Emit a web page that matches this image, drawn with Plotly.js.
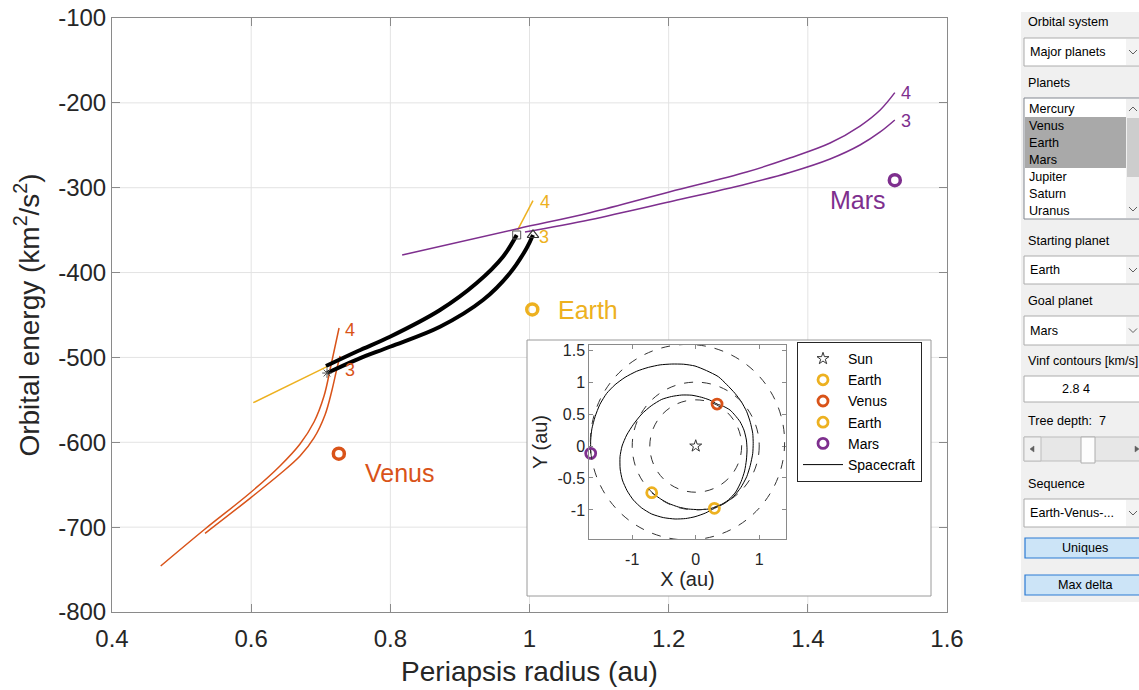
<!DOCTYPE html>
<html><head><meta charset="utf-8">
<script src="https://cdn.plot.ly/plotly-3.0.1.min.js"></script>
<style>html,body{margin:0;padding:0;background:#fff;}#chart{width:1139px;height:690px;}</style>
</head><body><div id="chart"></div>
<script>
// ---------- main chart data (periapsis radius [au], orbital energy [km^2/s^2]) ----------
const venus4X = [0.470, 0.5337, 0.5983, 0.6414, 0.6702, 0.6903, 0.7047, 0.7148, 0.7263];
const venus4Y = [-745.8, -702.2, -659.8, -627.9, -602.0, -576.1, -545.5, -508.9, -465.3];
const venus3X = [0.5337, 0.5983, 0.6414, 0.6702, 0.6903, 0.7061, 0.7162, 0.7234, 0.7278];
const venus3Y = [-707.3, -666.0, -637.4, -616.2, -594.9, -567.8, -538.4, -512.5, -498.3];
const earth4aX = [0.603, 0.709];
const earth4aY = [-553.3, -510.9];
const earth4bX = [0.983, 1.005];
const earth4bY = [-349.8, -315.3];
const mars4X = [0.817, 0.983, 1.087, 1.202, 1.312, 1.374, 1.432, 1.475, 1.504, 1.525];
const mars4Y = [-379.3, -348.3, -329.4, -304.7, -281.5, -265.0, -247.3, -227.3, -208.4, -188.0];
const mars3X = [0.9935, 1.087, 1.202, 1.312, 1.374, 1.432, 1.475, 1.504, 1.525];
const mars3Y = [-352.2, -337.7, -316.5, -295.6, -282.1, -266.2, -249.7, -234.3, -220.2];
const trajUpperX = [0.7075, 0.7535, 0.7995, 0.8714, 0.9241, 0.9619, 0.9816];
const trajUpperY = [-510.1, -492.4, -475.6, -444.1, -412.3, -381.3, -355.7];
const trajLowerX = [0.709, 0.7535, 0.7995, 0.8714, 0.9332, 0.972, 0.996, 1.005];
const trajLowerY = [-518.4, -501.9, -487.4, -463.8, -432.3, -400.5, -371.0, -355.7];
const planetNames = ['Venus', 'Earth', 'Mars'];
const planetRp = [0.726, 1.004, 1.525];
const planetEnergy = [-613.4, -443.5, -291.1];
const contourLevels = ['4', '3'];
const xTickVals = [0.4, 0.6, 0.8, 1.0, 1.2, 1.4, 1.6];
const xTickText = ['0.4', '0.6', '0.8', '1', '1.2', '1.4', '1.6'];
const yTickVals = [-800, -700, -600, -500, -400, -300, -200, -100];
const yTickText = ['-800', '-700', '-600', '-500', '-400', '-300', '-200', '-100'];

// ---------- inset data (heliocentric X, Y [au]) ----------
const scX = [-0.693,-0.55,-0.430,-0.27,-0.115,0.05,0.199,0.37,0.514,0.63,0.714,0.77,0.798,0.808,0.798,0.76,0.698,0.62,0.541,0.44,0.336,
  0.22,0.094,-0.06,-0.220,-0.38,-0.535,-0.70,-0.850,-0.98,-1.087,-1.16,-1.192,-1.19,-1.155,-1.08,-0.982,-0.85,-0.693,-0.51,-0.325,-0.16,-0.011,0.15,0.294,
  0.45,0.593,0.71,0.803,0.86,0.898,0.905,0.898,0.86,0.803,0.72,0.619,0.49,0.357,0.17,-0.011,-0.19,-0.378,-0.56,-0.745,-0.93,-1.113,-1.27,-1.402,-1.51,-1.585,-1.635,-1.654,-1.654];
const scY = [-0.730,-0.83,-0.897,-0.955,-0.986,-0.995,-0.986,-0.935,-0.845,-0.72,-0.558,-0.39,-0.219,-0.06,0.094,0.25,0.381,0.48,0.563,0.62,0.657,
  0.72,0.762,0.795,0.798,0.775,0.730,0.63,0.501,0.34,0.172,0.0,-0.167,-0.36,-0.532,-0.70,-0.845,-0.97,-1.064,-1.12,-1.142,-1.135,-1.106,-1.05,-0.975,
  -0.90,-0.793,-0.65,-0.480,-0.30,-0.115,0.04,0.198,0.37,0.537,0.69,0.824,0.96,1.085,1.18,1.252,1.28,1.283,1.27,1.231,1.17,1.075,0.96,0.824,0.65,0.459,0.27,0.094,-0.115];
const flybyNames = ['Earth', 'Venus', 'Earth', 'Mars'];
const flybyX = [-0.693, 0.336, 0.294, -1.654];
const flybyY = [-0.730, 0.657, -0.975, -0.115];
const orbitNames = ['Venus', 'Earth', 'Mars'];
const orbitCx = [0, 0, -0.13];
const orbitCy = [0, 0, 0.06];
const orbitR = [0.723, 1.0, 1.53];
const insetXTicks = [-1, 0, 1];
const insetXTickText = ['-1', '0', '1'];
const insetYTicks = [-1, -0.5, 0, 0.5, 1, 1.5];
const insetYTickText = ['-1', '-0.5', '0', '0.5', '1', '1.5'];

// ---------- UI panel texts ----------
const planetList = ['Mercury', 'Venus', 'Earth', 'Mars', 'Jupiter', 'Saturn', 'Uranus'];

const COL = {Venus: '#D95319', Earth: '#EDB120', Mars: '#7E2F8E'};
const AX = '#8a8a8a', TXT = '#262626', GRID = '#e3e3e3';

const pxX = p => (p - 112) / 835;
const pxY = p => (612 - p) / 594;

const traces = [];
function line(x, y, color, w) {
  return {x, y, type: 'scatter', mode: 'lines', xaxis: 'x', yaxis: 'y', showlegend: false,
    line: {color, width: w, shape: 'spline', smoothing: 1}, hoverinfo: 'skip'};
}
traces.push(line(venus4X, venus4Y, COL.Venus, 1.5));
traces.push(line(venus3X, venus3Y, COL.Venus, 1.5));
traces.push(line(earth4aX.concat([null], earth4bX), earth4aY.concat([null], earth4bY), COL.Earth, 1.5));
traces.push(line(mars4X, mars4Y, COL.Mars, 1.5));
traces.push(line(mars3X, mars3Y, COL.Mars, 1.5));
traces.push(line(trajUpperX, trajUpperY, '#000', 4));
traces.push(line(trajLowerX, trajLowerY, '#000', 4));
traces.push({x: [trajUpperX[trajUpperX.length-1]], y: [trajUpperY[trajUpperY.length-1]], type: 'scatter', mode: 'markers',
  xaxis: 'x', yaxis: 'y', showlegend: false, marker: {symbol: 'square-open', size: 8, color: '#555', line: {width: 1}}});
traces.push({x: [trajLowerX[trajLowerX.length-1]], y: [trajLowerY[trajLowerY.length-1]], type: 'scatter', mode: 'markers',
  xaxis: 'x', yaxis: 'y', showlegend: false, marker: {symbol: 'triangle-up-open', size: 10, color: '#333', line: {width: 1.2}}});
traces.push({x: [trajLowerX[0]], y: [trajLowerY[0]], type: 'scatter', mode: 'markers',
  xaxis: 'x', yaxis: 'y', showlegend: false, marker: {symbol: 'asterisk-open', size: 8, color: '#555', line: {width: 1}}});
traces.push({x: planetRp, y: planetEnergy, type: 'scatter', mode: 'markers', xaxis: 'x', yaxis: 'y', showlegend: false,
  marker: {symbol: 'circle-open', size: 11, color: planetNames.map(n => COL[n]), line: {width: 3.5}}});

// inset traces
traces.push({x: scX, y: scY, type: 'scatter', mode: 'lines', xaxis: 'x2', yaxis: 'y2', name: 'Spacecraft',
  legendrank: 1006, line: {color: '#000', width: 1, shape: 'spline', smoothing: 0.6}});
traces.push({x: [0], y: [0], type: 'scatter', mode: 'markers', xaxis: 'x2', yaxis: 'y2', name: 'Sun', legendrank: 1000,
  marker: {symbol: 'star-open', size: 9, color: '#333', line: {width: 1}}});
flybyNames.forEach((n, i) => {
  traces.push({x: [flybyX[i]], y: [flybyY[i]], type: 'scatter', mode: 'markers', xaxis: 'x2', yaxis: 'y2', name: n,
    legendrank: 1001 + i, cliponaxis: false,
    marker: {symbol: 'circle-open', size: 10, color: COL[n], line: {width: 2.8}}});
});

const shapes = [];
const annotations = [];

// main grid lines (drawn as shapes so the inset panel can cover them)
xTickVals.slice(1, -1).forEach(v => shapes.push({type: 'line', xref: 'x', yref: 'y domain', x0: v, x1: v, y0: 0, y1: 1,
  line: {color: GRID, width: 1}, layer: 'below'}));
yTickVals.slice(1, -1).forEach(v => shapes.push({type: 'line', xref: 'x domain', yref: 'y', x0: 0, x1: 1, y0: v, y1: v,
  line: {color: GRID, width: 1}, layer: 'below'}));
// inset white panel
shapes.push({type: 'rect', xref: 'x domain', yref: 'y domain', x0: pxX(527), x1: pxX(931), y0: pxY(596), y1: pxY(340),
  fillcolor: '#fff', line: {color: '#9a9a9a', width: 1}, layer: 'below'});
// orbit circles
orbitR.forEach((r, i) => {
  shapes.push({type: 'circle', xref: 'x2', yref: 'y2', x0: orbitCx[i] - r, x1: orbitCx[i] + r, y0: orbitCy[i] - r, y1: orbitCy[i] + r,
    line: {color: '#333', width: 1, dash: 'dash'}, layer: 'above'});
});

// planet labels in main plot
const planetLabelAt = {Venus: [0.814, -636], Earth: [1.084, -444], Mars: [1.472, -314.5]};
planetNames.forEach(n => {
  annotations.push({x: planetLabelAt[n][0], y: planetLabelAt[n][1], xref: 'x', yref: 'y', text: n, showarrow: false,
    font: {size: 25, color: COL[n]}});
});
// contour level labels
const levelLabelAt = {Venus: [[0.732, -467.7], [0.732, -514.8]], Earth: [[1.0122, -316.8], [1.0108, -358]], Mars: [[1.531, -188.4], [1.531, -221.4]]};
planetNames.forEach(n => {
  contourLevels.forEach((lv, k) => {
    annotations.push({x: levelLabelAt[n][k][0], y: levelLabelAt[n][k][1], xref: 'x', yref: 'y', text: lv, showarrow: false,
      xanchor: 'left', font: {size: 18, color: COL[n]}});
  });
});

// ---------- UI panel ----------
function rectPx(x0, y0, x1, y1, fill, lc, lw) {
  shapes.push({type: 'rect', xref: 'paper', yref: 'paper', x0: pxX(x0), x1: pxX(x1), y0: pxY(y1), y1: pxY(y0),
    fillcolor: fill, line: {color: lc || fill, width: lw === undefined ? 1 : lw}, layer: 'above'});
}
function textPx(x, y, t, opts) {
  opts = opts || {};
  annotations.push({x: pxX(x), y: pxY(y), xref: 'paper', yref: 'paper', text: t, showarrow: false,
    xanchor: opts.anchor || 'left', yanchor: 'middle', font: {size: opts.size || 12.6, color: opts.color || '#000', family: 'Arial'}});
}
function chevron(cx, cy, up) {
  const d = up ? -1 : 1;
  const p = `M ${pxX(cx-4)},${pxY(cy-2*d)} L ${pxX(cx)},${pxY(cy+2*d)} L ${pxX(cx+4)},${pxY(cy-2*d)}`;
  shapes.push({type: 'path', xref: 'paper', yref: 'paper', path: p, line: {color: '#606060', width: 1}, layer: 'above'});
}
function triangle(cx, cy, dir) {
  const p = `M ${pxX(cx-2*dir)},${pxY(cy-3)} L ${pxX(cx+2*dir)},${pxY(cy)} L ${pxX(cx-2*dir)},${pxY(cy+3)} Z`;
  shapes.push({type: 'path', xref: 'paper', yref: 'paper', path: p, fillcolor: '#606060', line: {color: '#606060', width: 0.5}, layer: 'above'});
}
rectPx(1021, 12, 1145, 602, '#f0f0f0', '#f0f0f0', 0);
function dropdown(y0, y1, label) {
  rectPx(1024, y0, 1145, y1, '#ffffff', '#acacac', 1);
  rectPx(1126, y0 + 1, 1145, y1 - 1, '#f3f3f3', '#f3f3f3', 0);
  chevron(1133, (y0 + y1) / 2, false);
  textPx(1028, (y0 + y1) / 2, label);
}
textPx(1026, 22, 'Orbital system');
dropdown(38, 66, 'Major planets');
textPx(1026, 83, 'Planets');
rectPx(1024, 98, 1145, 219, '#ffffff', '#828790', 1);
rectPx(1025, 117, 1126, 168, '#a9a9a9', '#a9a9a9', 0);
rectPx(1126, 99, 1145, 218, '#f0f0f0', '#f0f0f0', 0);
rectPx(1127, 118, 1145, 177, '#cdcdcd', '#cdcdcd', 0);
chevron(1133, 109, true);
chevron(1133, 209, false);
planetList.forEach((p, i) => textPx(1027, 109 + i * 17, p));
textPx(1026, 241, 'Starting planet');
dropdown(256, 284, 'Earth');
textPx(1026, 301, 'Goal planet');
dropdown(316, 345, 'Mars');
textPx(1026, 361, 'Vinf contours [km/s]');
rectPx(1024, 376, 1145, 402, '#ffffff', '#acacac', 1);
textPx(1076, 389, '2.8 4', {anchor: 'center'});
textPx(1026, 421, 'Tree depth:  7');
rectPx(1024, 437, 1145, 461, '#e7e7e7', '#bdbdbd', 1);
rectPx(1024, 437, 1041, 461, '#f0f0f0', '#bdbdbd', 1);
rectPx(1081, 437, 1095, 463, '#fdfdfd', '#adadad', 1);
triangle(1032, 449, -1);
triangle(1137, 449, 1);
textPx(1026, 484, 'Sequence');
dropdown(499, 527, 'Earth-Venus-...');
rectPx(1025, 538, 1145, 558, '#cce4f7', '#2b7bd4', 1.2);
textPx(1085, 548, 'Uniques', {anchor: 'center'});
rectPx(1025, 575, 1145, 595, '#cce4f7', '#2b7bd4', 1.2);
textPx(1085, 585, 'Max delta', {anchor: 'center'});

const layout = {
  width: 1139, height: 690,
  margin: {l: 112, r: 192, t: 18, b: 78, pad: 0},
  paper_bgcolor: '#fff', plot_bgcolor: 'rgba(0,0,0,0)',
  font: {family: 'Arial, Liberation Sans, sans-serif', color: TXT},
  showlegend: true,
  legend: {x: pxX(797), y: pxY(342), xanchor: 'left', yanchor: 'top', bgcolor: '#fff', bordercolor: '#262626', borderwidth: 1,
    font: {size: 14, color: '#000'}, tracegroupgap: 0, itemwidth: 40},
  xaxis: {domain: [0, 1], range: [0.4, 1.6], tickvals: xTickVals, ticktext: xTickText, ticks: 'inside', ticklen: 8,
    tickcolor: AX, showline: true, linecolor: AX, linewidth: 1, mirror: 'ticks', showgrid: false,
    zeroline: false, tickfont: {size: 24, color: TXT}, anchor: 'y', ticklabelstandoff: 5,
    title: {text: 'Periapsis radius (au)', font: {size: 28, color: TXT}, standoff: 10}},
  yaxis: {domain: [0, 1], range: [-800, -100], tickvals: yTickVals, ticktext: yTickText, ticks: 'inside', ticklen: 8,
    tickcolor: AX, showline: true, linecolor: AX, linewidth: 1, mirror: 'ticks', showgrid: false,
    zeroline: false, tickfont: {size: 24, color: TXT}, anchor: 'x',
    title: {text: 'Orbital energy (km<sup>2</sup>/s<sup>2</sup>)', font: {size: 28, color: TXT}, standoff: 10}},
  xaxis2: {domain: [pxX(589.3), pxX(785.7)], range: [-1.676, 1.417], anchor: 'y2', tickvals: insetXTicks, ticktext: insetXTickText,
    ticks: 'inside', ticklen: 4, tickcolor: AX, showline: true, linecolor: AX, mirror: 'ticks', showgrid: false, zeroline: false,
    tickfont: {size: 16, color: TXT}, ticklabelstandoff: 6, title: {text: 'X (au)', font: {size: 20, color: TXT}, standoff: 4}},
  yaxis2: {domain: [pxY(539), pxY(345)], range: [-1.455, 1.581], anchor: 'x2', tickvals: insetYTicks, ticktext: insetYTickText,
    ticks: 'inside', ticklen: 4, tickcolor: AX, showline: true, linecolor: AX, mirror: 'ticks', showgrid: false, zeroline: false,
    tickfont: {size: 16, color: TXT}, title: {text: 'Y (au)', font: {size: 20, color: TXT}, standoff: 4}},
  shapes, annotations, hovermode: false
};
Plotly.newPlot('chart', traces, layout, {staticPlot: true, displayModeBar: false});
</script></body></html>
